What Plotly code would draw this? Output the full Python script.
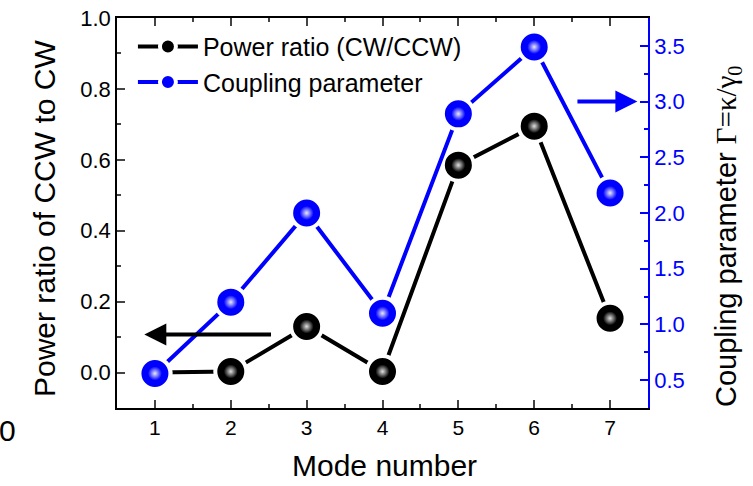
import plotly.graph_objects as go

modes = [1, 2, 3, 4, 5, 6, 7]
power_ratio = [0.0, 0.003, 0.13, 0.003, 0.585, 0.695, 0.153]
coupling = [0.56, 1.2, 2.0, 1.1, 2.89, 3.49, 2.18]
x_ticks = [1, 2, 3, 4, 5, 6, 7]

BLUE = "#0000FF"
FONT = "Liberation Sans, Arial, sans-serif"

fig = go.Figure()

fig.add_trace(go.Scatter(
    x=modes, y=power_ratio, mode="lines+markers", name="Power ratio (CW/CCW)",
    line=dict(color="black", width=4),
    marker=dict(size=31, color="black", line=dict(color="white", width=4)),
))
fig.add_trace(go.Scatter(
    x=modes, y=power_ratio, mode="markers", showlegend=False, hoverinfo="skip",
    marker=dict(size=14, color="black", gradient=dict(type="radial", color="#e0e0e0")),
))
fig.add_trace(go.Scatter(
    x=modes, y=coupling, mode="lines+markers", name="Coupling parameter", yaxis="y2",
    line=dict(color=BLUE, width=4),
    marker=dict(size=31, color=BLUE, line=dict(color="white", width=4)),
))
fig.add_trace(go.Scatter(
    x=modes, y=coupling, mode="markers", showlegend=False, hoverinfo="skip", yaxis="y2",
    marker=dict(size=14, color=BLUE, gradient=dict(type="radial", color="#e8e8ff")),
))

W, H = 753, 486
L, R, T, B = 117, 105, 18, 78

fig.update_layout(
    width=W, height=H,
    margin=dict(l=L, r=R, t=T, b=B, autoexpand=False),
    paper_bgcolor="white", plot_bgcolor="white",
    font=dict(family=FONT, color="black"),
    showlegend=True,
    legend=dict(x=0.03, y=0.985, xanchor="left", yanchor="top",
                bgcolor="rgba(0,0,0,0)", font=dict(size=25, family=FONT),
                itemwidth=60, tracegroupgap=0),
    xaxis=dict(range=[0.5, 7.5], tickvals=x_ticks, ticks="inside", ticklen=8, tickwidth=1.5,
               showline=True, linecolor="black", linewidth=1.5, mirror="ticks",
               showgrid=False, zeroline=False, tickfont=dict(size=21),
               minor=dict(ticks="inside", ticklen=4, dtick=0.5, tickwidth=1.5, showgrid=False)),
    yaxis=dict(range=[-0.1, 1.0], dtick=0.2, tickformat=".1f", ticks="inside", ticklen=8,
               tickwidth=1.5, showline=True, linecolor="black", linewidth=1.5,
               showgrid=False, zeroline=False, tickfont=dict(size=22),
               minor=dict(ticks="inside", ticklen=4, dtick=0.1, tickwidth=1.5, showgrid=False)),
    yaxis2=dict(range=[0.25, 3.75], dtick=0.5, tickformat=".1f", overlaying="y", side="right",
                ticks="inside", ticklen=8, tickwidth=1.5, tickcolor=BLUE,
                showline=True, linecolor=BLUE, linewidth=1.5,
                showgrid=False, zeroline=False, tickfont=dict(size=22, color=BLUE),
                minor=dict(ticks="inside", ticklen=4, dtick=0.25, tickwidth=1.5,
                           tickcolor=BLUE, showgrid=False)),
)

pw, ph = W - L - R, H - T - B
def px(x):
    return (x - L) / pw
def py(y):
    return (H - B - y) / ph

def lab(text, x, y, size, angle=0):
    return dict(text=text, x=px(x), y=py(y), xref="paper", yref="paper",
                xanchor="center", yanchor="middle", textangle=angle,
                showarrow=False, font=dict(size=size, family=FONT))

annotations = [
    lab("Power ratio of CCW to CW", 45, 219, 30, -90),
    lab("Coupling parameter <span style='font-family:Liberation Serif, Times New Roman, serif'>Γ=κ/γ<sub>0</sub></span>",
        728, 236, 29, -90),
    lab("Mode number", 384, 466, 30),
    lab("0", 7, 430, 30),
    # arrows
    dict(x=0.86, y=0.107, ax=2.55, ay=0.107, xref="x", yref="y", axref="x", ayref="y",
         text="", showarrow=True, arrowhead=2, arrowsize=1.1, arrowwidth=4, arrowcolor="black"),
    dict(x=7.36, y=3.0, ax=6.55, ay=3.0, xref="x", yref="y2", axref="x", ayref="y2",
         text="", showarrow=True, arrowhead=2, arrowsize=1.1, arrowwidth=4, arrowcolor=BLUE),
]
fig.update_layout(annotations=annotations)

fig.write_html("out.html")
